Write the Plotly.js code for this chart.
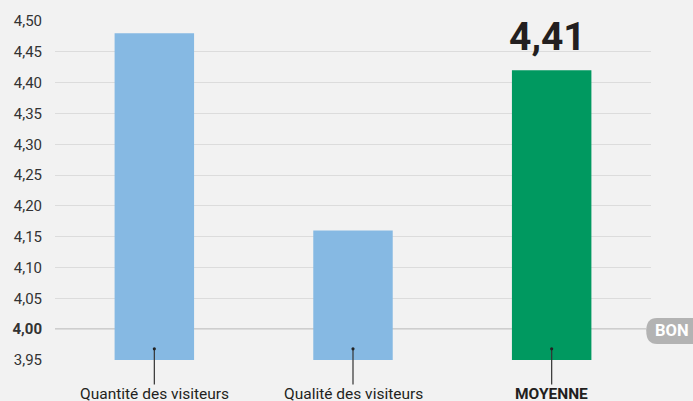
<!DOCTYPE html>
<html><head><meta charset="utf-8">
<script src="https://cdn.plot.ly/plotly-3.0.1.min.js"></script>
<style>html,body{margin:0;padding:0;background:#f2f2f2;}</style>
</head><body>
<div id="chart" style="width:693px;height:401px;"></div>
<script>
const categories = ["Quantité des visiteurs", "Qualité des visiteurs", "MOYENNE"];
const values = [4.48, 4.16, 4.42];
const barColors = ["#86b9e3", "#86b9e3", "#009960"];
const valueLabel = "4,41";
const yTicks = [3.95, 4.00, 4.05, 4.10, 4.15, 4.20, 4.25, 4.30, 4.35, 4.40, 4.45, 4.50];
const refValue = 4.00;
const refLabel = "BON";

const fmt = v => v.toFixed(2).replace(".", ",");
const tickText = yTicks.map(v => v === refValue ? "<b>" + fmt(v) + "</b>" : fmt(v));
const catText = categories.map(c => c === "MOYENNE" ? "<b>" + c + "</b>" : c);

const font = "Roboto, 'DejaVu Sans', sans-serif";
const shapes = [];
const annotations = [];
categories.forEach((c, i) => {
  shapes.push({type: "line", xref: "x", yref: "paper", x0: c, x1: c, y0: 0.033, y1: -0.072,
    line: {color: "#333", width: 1.2}});
  shapes.push({type: "circle", xref: "x", yref: "paper", xsizemode: "pixel", ysizemode: "pixel",
    xanchor: c, yanchor: 0.033, x0: -1.6, x1: 1.6, y0: -1.6, y1: 1.6,
    fillcolor: "#222", line: {width: 0}});
  annotations.push({x: c, xref: "x", yref: "paper", y: -0.067, yanchor: "top", showarrow: false,
    text: catText[i], font: {family: font, size: 15.5, color: "#231f20"}});
});
// reference line
shapes.push({type: "line", xref: "paper", yref: "y", x0: 0, x1: 0.992, y0: refValue, y1: refValue,
  line: {color: "#a9a9a9", width: 1.2}, layer: "below"});
// badge
shapes.push({type: "path", xref: "paper", yref: "paper",
  path: "M 0.992 0.086 Q 0.992 0.124 1.01 0.124 L 1.08 0.124 L 1.08 0.047 L 1.01 0.047 Q 0.992 0.047 0.992 0.086 Z",
  fillcolor: "#b3b3b3", line: {width: 0}});
annotations.push({xref: "paper", yref: "paper", x: 1.035, y: 0.086, xanchor: "center", yanchor: "middle",
  showarrow: false, text: "<b>" + refLabel + "</b>", font: {family: font, size: 16.5, color: "#ffffff"}});
// value label
annotations.push({x: categories[2], xref: "x", yref: "y", y: values[2], yanchor: "bottom", yshift: 8, xshift: -4,
  showarrow: false, text: "<b>" + valueLabel + "</b>", font: {family: font, size: 39, color: "#231f20"}});

const data = [{
  type: "bar", x: categories, y: values, width: 0.4,
  marker: {color: barColors, line: {width: 0}}, hoverinfo: "none"
}];
const layout = {
  width: 693, height: 401,
  margin: {l: 55, r: 42, t: 21, b: 41, pad: 0},
  paper_bgcolor: "#f2f2f2", plot_bgcolor: "#f2f2f2",
  showlegend: false,
  font: {family: font, size: 15, color: "#333"},
  xaxis: {type: "category", range: [-0.5, 2.5], showticklabels: false, showgrid: false, zeroline: false,
    ticks: "", showline: false, fixedrange: true},
  yaxis: {range: [3.95, 4.5], tickvals: yTicks, ticktext: tickText, showgrid: true, gridcolor: "#dcdcdc",
    gridwidth: 1, zeroline: false, showline: false, ticks: "", ticklabelstandoff: 12,
    tickfont: {family: font, size: 15, color: "#333"}, fixedrange: true},
  shapes: shapes, annotations: annotations
};
Plotly.newPlot("chart", data, layout, {staticPlot: true, displayModeBar: false});
</script>
</body></html>
